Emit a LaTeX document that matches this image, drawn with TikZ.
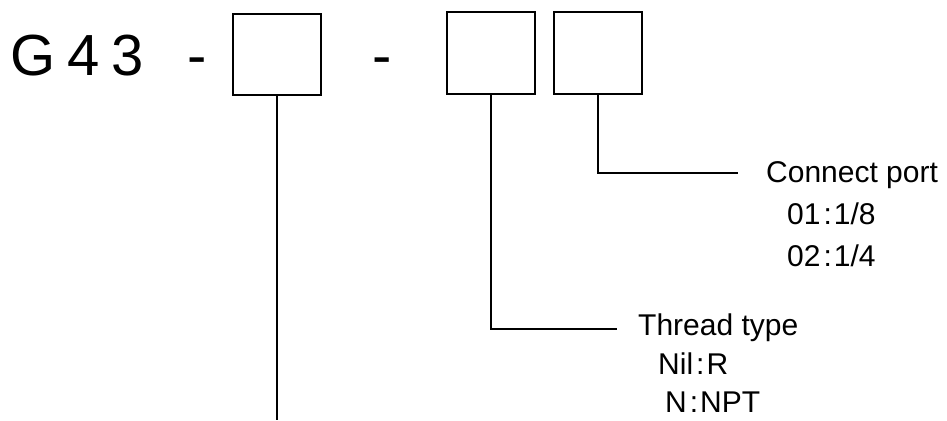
\documentclass[tikz,border=0pt]{standalone}
\usepackage{fontspec}
\setmainfont{Liberation Sans}
\newcommand{\sepcolon}{\kern3pt:\kern2pt}

\begin{document}
\begin{tikzpicture}[x=1pt, y=-1pt,
        codebox/.style={draw, line width=2pt, minimum width=88pt, minimum height=81pt, inner sep=0pt},
        bigtext/.style={anchor=base west, inner sep=0pt, font=\fontsize{58}{58}\selectfont},
        note/.style={anchor=base west, inner sep=0pt, font=\fontsize{30}{30}\selectfont},
        lead/.style={line width=2pt}]
        \useasboundingbox (0,0) rectangle (947,420);

        % Model code
        \node[bigtext] (series) at (10, 75) {G\hspace{12pt}4\hspace{12pt}3};
        \node[bigtext] (dashA) at (187, 75) {-};
        \node[bigtext] (dashB) at (372, 75) {-};

        % Boxes
        \node[codebox] (size) at (277, 54.5) {};
        \node[codebox] (thread) at (490.5, 53) {};
        \node[codebox] (port) at (598, 53) {};

        % Ends of the leaders
        \coordinate (sizeend) at (277, 420);
        \coordinate (threadend) at (617, 329);
        \coordinate (portend) at (738, 173);

        % Leaders
        \draw[lead] (size.south) -- (sizeend);
        \draw[lead] (thread.south) |- (threadend);
        \draw[lead] (port.south) |- (portend);

        % Connect port
        \node[note] (porttitle) at (766, 182) {Connect port};
        \node[note] (portA) at (787, 224) {01\sepcolon1/8};
        \node[note] (portB) at (787, 266) {02\sepcolon1/4};

        % Thread type
        \node[note] (threadtitle) at (638, 335) {Thread type};
        \node[note] (threadA) at (658, 374) {Nil\sepcolon R};
        \node[note] (threadB) at (665, 412) {N\sepcolon NPT};
    \end{tikzpicture}
\end{document}
